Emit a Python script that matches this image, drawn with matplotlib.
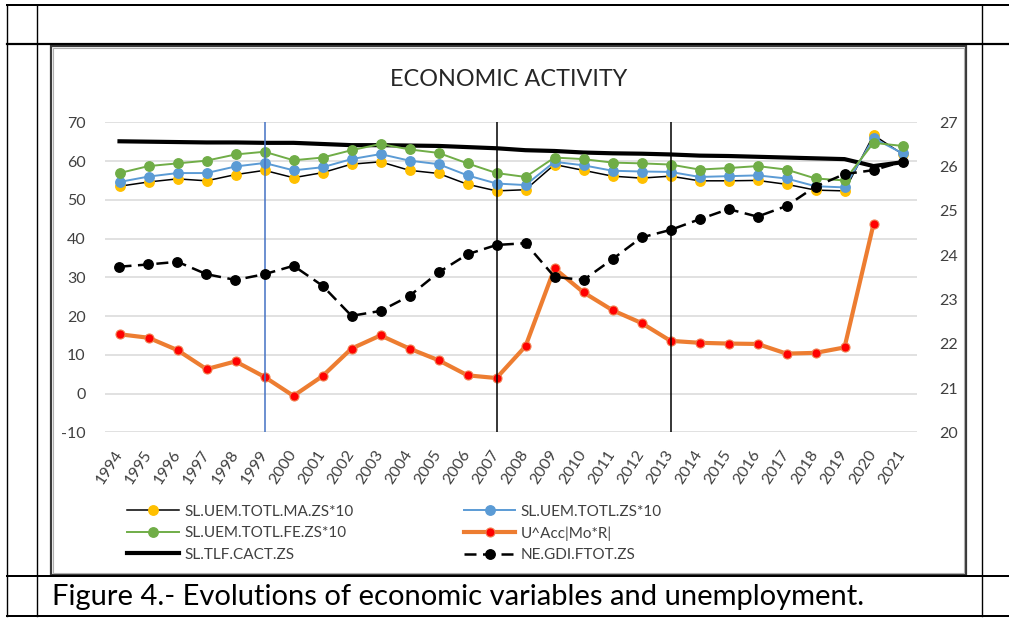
import numpy as np
import matplotlib
matplotlib.use('Agg')
import matplotlib.pyplot as plt
from matplotlib.lines import Line2D
from matplotlib.patches import Rectangle

plt.rcParams['font.family'] = ['Lato', 'DejaVu Sans']
plt.rcParams['axes.unicode_minus'] = False

years = ['1994', '1995', '1996', '1997', '1998', '1999', '2000', '2001', '2002', '2003',
         '2004', '2005', '2006', '2007', '2008', '2009', '2010', '2011', '2012', '2013',
         '2014', '2015', '2016', '2017', '2018', '2019', '2020', '2021']

uem_ma = [53.5, 54.6, 55.4, 54.9, 56.5, 57.6, 55.7, 57.0, 59.2, 59.8, 57.6, 56.8, 54.0, 52.3,
          52.6, 59.1, 57.6, 56.1, 55.6, 56.1, 54.9, 54.9, 55.0, 54.0, 52.5, 52.3, 66.7, 61.8]
uem_tot = [54.6, 56.0, 56.9, 56.9, 58.6, 59.5, 57.6, 58.4, 60.5, 61.8, 60.1, 59.2, 56.3, 54.2,
           53.8, 59.8, 58.9, 57.5, 57.3, 57.2, 55.9, 56.1, 56.3, 55.5, 53.5, 53.2, 65.9, 62.0]
uem_fe = [56.9, 58.7, 59.4, 60.1, 61.7, 62.4, 60.2, 60.9, 62.8, 64.4, 63.0, 62.1, 59.4, 56.9,
          55.9, 60.9, 60.5, 59.6, 59.4, 59.1, 57.8, 58.2, 58.7, 57.8, 55.5, 55.0, 64.7, 63.9]
u_acc = [15.3, 14.4, 11.2, 6.3, 8.3, 4.3, -0.6, 4.5, 11.6, 15.0, 11.6, 8.6, 4.7, 4.0,
         12.2, 32.3, 26.1, 21.5, 18.2, 13.6, 13.1, 12.9, 12.8, 10.3, 10.5, 11.9, 43.7, np.nan]
tlf_cact = [65.1, 65.0, 64.9, 64.8, 64.8, 64.7, 64.7, 64.4, 64.1, 64.1, 64.0, 63.9, 63.6, 63.3,
            62.8, 62.6, 62.2, 62.0, 61.9, 61.7, 61.4, 61.3, 61.1, 60.9, 60.7, 60.5, 58.7, 59.7]
gdi_ftot = [23.74, 23.79, 23.85, 23.57, 23.44, 23.57, 23.76, 23.31, 22.63, 22.74, 23.08, 23.61,
            24.02, 24.23, 24.27, 23.51, 23.44, 23.91, 24.40, 24.57, 24.81, 25.04, 24.87, 25.11,
            25.55, 25.83, 25.92, 26.11]

series_names = ['SL.UEM.TOTL.MA.ZS*10', 'SL.UEM.TOTL.ZS*10', 'SL.UEM.TOTL.FE.ZS*10',
                'U^Acc|Mo*R|', 'SL.TLF.CACT.ZS', 'NE.GDI.FTOT.ZS']
marked_years = ['1999', '2007', '2013']
marked_colors = ['#4472C4', 'black', 'black']

W, H = 1009, 619
fig = plt.figure(figsize=(W / 100, H / 100), dpi=100)


def fx(px):
    return px / W


def fy(py):
    return 1 - py / H


# table lines (document frame)
for yy, lw in [(4.5, 2.0), (44.3, 2.2), (575.8, 2.0), (616.0, 2.0)]:
    fig.add_artist(Line2D([fx(7), fx(1009)], [fy(yy), fy(yy)], color='black', lw=lw * 0.72,
                          transform=fig.transFigure))
for xx in [7, 36.7, 981.7]:
    fig.add_artist(Line2D([fx(xx), fx(xx)], [fy(4.5), fy(616)], color='black', lw=1.0,
                          transform=fig.transFigure))

# chart box
fig.add_artist(Rectangle((fx(51), fy(574.5)), fx(966) - fx(51), fy(46) - fy(574.5),
                         fill=False, edgecolor='#3a3a3a', lw=1.6, transform=fig.transFigure))
fig.add_artist(Rectangle((fx(53), fy(572.5)), fx(964) - fx(53), fy(48) - fy(572.5),
                         fill=False, edgecolor='#b0b0b0', lw=0.8, transform=fig.transFigure))

ax = fig.add_axes([fx(105), fy(432.3), fx(917) - fx(105), fy(122.3) - fy(432.3)])
ax2 = ax.twinx()
x = np.arange(len(years))

ms = 6.8
h_tlf, = ax.plot(x, tlf_cact, color='black', lw=3.0, zorder=2, label=series_names[4])
h_ma, = ax.plot(x, uem_ma, color='black', lw=1.1, marker='o', ms=ms, mfc='#FFC000',
                mec='#FFC000', zorder=3, label=series_names[0])
h_tot, = ax.plot(x, uem_tot, color='#5B9BD5', lw=1.4, marker='o', ms=ms, mfc='#5B9BD5',
                 mec='#5B9BD5', zorder=4, label=series_names[1])
h_fe, = ax.plot(x, uem_fe, color='#70AD47', lw=1.4, marker='o', ms=ms, mfc='#70AD47',
                mec='#70AD47', zorder=5, label=series_names[2])
h_acc, = ax.plot(x, u_acc, color='#ED7D31', lw=3.0, marker='o', ms=6.5, mfc='#FF0000',
                 mec='#F08050', mew=0.8, zorder=6, label=series_names[3])
h_gdi, = ax2.plot(x, gdi_ftot, color='black', lw=1.8, ls=(0, (4.8, 2.6)), marker='o', ms=ms,
                  mfc='black', mec='black', zorder=5, label=series_names[5])

for yr, c in zip(marked_years, marked_colors):
    ax.axvline(years.index(yr), color=c, lw=1.1, zorder=7)

ax.set_xlim(-0.5, len(years) - 0.5)
ax.set_ylim(-10, 70)
ax.set_yticks(np.arange(-10, 71, 10))
ax2.set_ylim(20, 27)
ax2.set_yticks(np.arange(20, 28, 1))
ax.yaxis.grid(True, color='#D9D9D9', lw=1.1)
ax.set_axisbelow(True)
for a in (ax, ax2):
    for s in a.spines.values():
        s.set_visible(False)
    a.tick_params(length=0, labelsize=11.5, labelcolor='#404040')
ax.tick_params(axis='y', pad=14)
ax2.tick_params(axis='y', pad=16)
ax.set_xticks(x)
ax.set_xticklabels(years, rotation=57, ha='right', va='center', rotation_mode='anchor')
ax.tick_params(axis='x', pad=14)

fig.text(fx(508.5), fy(80), 'ECONOMIC ACTIVITY', ha='center', va='center', fontsize=16.8,
         color='#262626')

handles = [h_ma, h_fe, h_tlf, h_tot, h_acc, h_gdi]
fig.legend(handles=handles, labels=[h.get_label() for h in handles], ncol=2,
           loc='upper left', bbox_to_anchor=(fx(127), fy(504.5)), frameon=False,
           fontsize=11, handlelength=3.4, handletextpad=0.35, columnspacing=7.2,
           labelspacing=0.5, borderpad=0, borderaxespad=0, numpoints=1,
           labelcolor='#404040')

fig.text(fx(52), fy(605), 'Figure 4.- Evolutions of economic variables and unemployment.',
         ha='left', va='baseline', fontsize=21, color='black')

fig.savefig('out.png', dpi=100)
